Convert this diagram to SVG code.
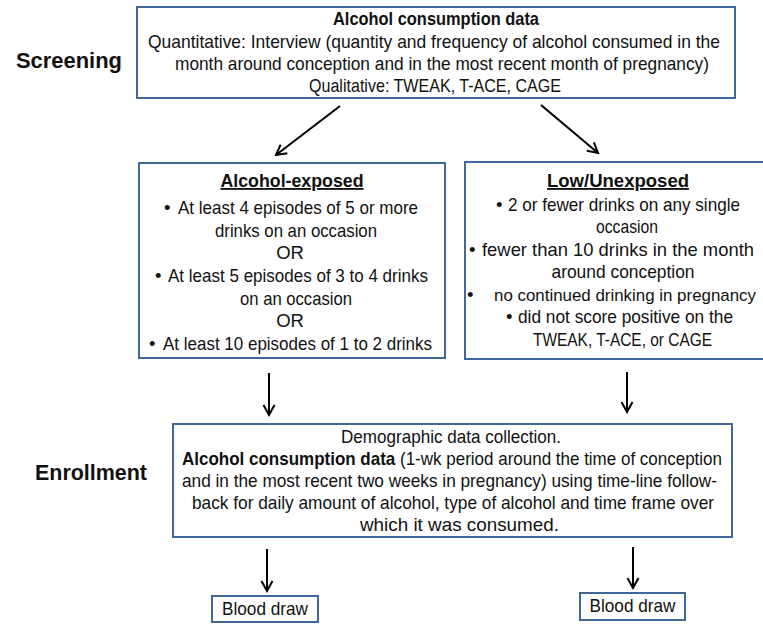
<svg xmlns="http://www.w3.org/2000/svg" width="763" height="624" viewBox="0 0 763 624">
<style>
  .box { fill: #ffffff; stroke: #41689a; stroke-width: 2; }
  .t { font-family: "Liberation Sans", Arial, sans-serif; font-size: 18.5px; fill: #111; }
  .c { text-anchor: middle; }
  .b { font-weight: bold; }
  .u { text-decoration: underline; }
  .lbl { font-family: "Liberation Sans", Arial, sans-serif; font-size: 22px; font-weight: bold; fill: #111; }
  .conn { stroke: #000; stroke-width: 2; fill: none; marker-end: url(#arr); }
</style>
<defs>
  <marker id="arr" markerUnits="userSpaceOnUse" markerWidth="14" markerHeight="14" viewBox="0 0 14 14" refX="12" refY="7" orient="auto">
    <path d="M2,1.5 L12,7 L2,12.5" fill="none" stroke="#000" stroke-width="2"/>
  </marker>
</defs>
<rect width="763" height="624" fill="#ffffff"/>

<text class="lbl" x="16" y="68" textLength="106" lengthAdjust="spacingAndGlyphs">Screening</text>
<text class="lbl" x="35" y="480" textLength="112" lengthAdjust="spacingAndGlyphs">Enrollment</text>

<g id="screening">
  <rect class="box" x="137" y="7" width="598" height="91"/>
  <text class="t b c" x="436" y="25" textLength="206" lengthAdjust="spacingAndGlyphs">Alcohol consumption data</text>
  <text class="t c" x="434" y="48" textLength="572" lengthAdjust="spacingAndGlyphs">Quantitative: Interview (quantity and frequency of alcohol consumed in the</text>
  <text class="t c" x="442" y="70" textLength="534" lengthAdjust="spacingAndGlyphs">month around conception and in the most recent month of pregnancy)</text>
  <text class="t c" x="435" y="92" textLength="252" lengthAdjust="spacingAndGlyphs">Qualitative: TWEAK, T-ACE, CAGE</text>
</g>

<g id="alcohol-exposed">
  <rect class="box" x="139" y="163" width="306" height="195"/>
  <text class="t b c u" x="292" y="187" textLength="143" lengthAdjust="spacingAndGlyphs">Alcohol-exposed</text>
  <text class="t" x="164" y="214">•</text>
  <text class="t c" x="298" y="214" textLength="240" lengthAdjust="spacingAndGlyphs">At least 4 episodes of 5 or more</text>
  <text class="t c" x="296" y="237" textLength="162" lengthAdjust="spacingAndGlyphs">drinks on an occasion</text>
  <text class="t c" x="290" y="259">OR</text>
  <text class="t" x="155" y="282">•</text>
  <text class="t c" x="298" y="282" textLength="260" lengthAdjust="spacingAndGlyphs">At least 5 episodes of 3 to 4 drinks</text>
  <text class="t c" x="296" y="305" textLength="112" lengthAdjust="spacingAndGlyphs">on an occasion</text>
  <text class="t c" x="290" y="327">OR</text>
  <text class="t" x="149" y="350">•</text>
  <text class="t c" x="297.5" y="350" textLength="269" lengthAdjust="spacingAndGlyphs">At least 10 episodes of 1 to 2 drinks</text>
</g>

<g id="low-unexposed">
  <rect class="box" x="465" y="162" width="306" height="197"/>
  <text class="t b c u" x="618" y="187" textLength="142" lengthAdjust="spacingAndGlyphs">Low/Unexposed</text>
  <text class="t" x="496" y="211">•</text>
  <text class="t c" x="624" y="211" textLength="232" lengthAdjust="spacingAndGlyphs">2 or fewer drinks on any single</text>
  <text class="t c" x="627" y="233" textLength="62" lengthAdjust="spacingAndGlyphs">occasion</text>
  <text class="t" x="469" y="256">•</text>
  <text class="t c" x="618" y="256" textLength="272" lengthAdjust="spacingAndGlyphs">fewer than 10 drinks in the month</text>
  <text class="t c" x="623" y="278" textLength="143" lengthAdjust="spacingAndGlyphs">around conception</text>
  <text class="t" x="467" y="301">•</text>
  <text class="t c" x="625" y="301" style="font-size:17px" textLength="262" lengthAdjust="spacingAndGlyphs">no continued drinking in pregnancy</text>
  <text class="t" x="506" y="323">•</text>
  <text class="t c" x="625.5" y="323" textLength="215" lengthAdjust="spacingAndGlyphs">did not score positive on the</text>
  <text class="t c" x="622.5" y="346" textLength="179" lengthAdjust="spacingAndGlyphs">TWEAK, T-ACE, or CAGE</text>
</g>

<g id="enrollment">
  <rect class="box" x="173" y="424" width="559" height="113"/>
  <text class="t c" x="451" y="443" textLength="220" lengthAdjust="spacingAndGlyphs">Demographic data collection.</text>
  <text class="t" x="182" y="465" textLength="540" lengthAdjust="spacingAndGlyphs"><tspan class="b">Alcohol consumption data</tspan> (1-wk period around the time of conception</text>
  <text class="t" x="182" y="487" textLength="535" lengthAdjust="spacingAndGlyphs">and in the most recent two weeks in pregnancy) using time-line follow-</text>
  <text class="t" x="192" y="509" textLength="522" lengthAdjust="spacingAndGlyphs">back for daily amount of alcohol, type of alcohol and time frame over</text>
  <text class="t c" x="459.5" y="531" textLength="199" lengthAdjust="spacingAndGlyphs">which it was consumed.</text>
</g>

<g id="blood-draw-left">
  <rect class="box" x="212" y="596" width="106" height="26"/>
  <text class="t c" x="265" y="615" textLength="86" lengthAdjust="spacingAndGlyphs">Blood draw</text>
</g>

<g id="blood-draw-right">
  <rect class="box" x="580" y="593" width="105" height="27"/>
  <text class="t c" x="632.5" y="612" textLength="86" lengthAdjust="spacingAndGlyphs">Blood draw</text>
</g>

<g id="connectors">
  <line class="conn" x1="340" y1="106" x2="276" y2="155"/>
  <line class="conn" x1="541" y1="105" x2="598" y2="153"/>
  <line class="conn" x1="269" y1="373" x2="269" y2="415"/>
  <line class="conn" x1="627" y1="372" x2="627" y2="412"/>
  <line class="conn" x1="267" y1="549" x2="267" y2="591"/>
  <line class="conn" x1="633" y1="547" x2="633" y2="588"/>
</g>
</svg>
